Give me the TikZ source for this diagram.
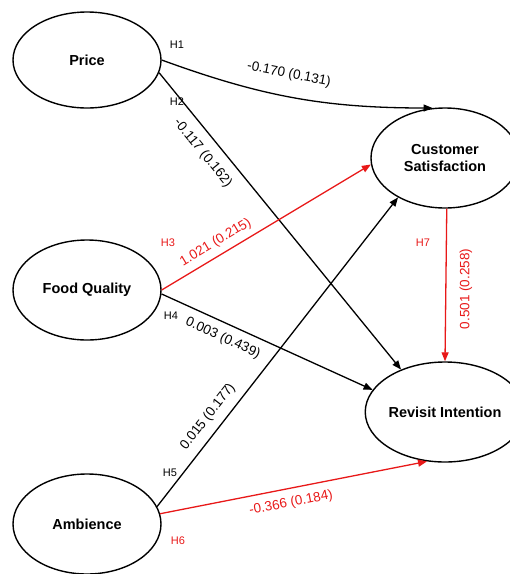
\documentclass[tikz,border=0pt]{standalone}
\usepackage{fontspec}
\setmainfont{Liberation Sans}
\usepackage{tikz}
\usetikzlibrary{arrows.meta,shapes.geometric}
\definecolor{pathred}{RGB}{232,24,24}
\tikzstyle{construct}=[ellipse, draw, line width=1.4pt, minimum width=148pt, minimum height=100pt, inner sep=0pt, align=center, font=\bfseries\fontsize{14.5}{17}\selectfont]
\tikzstyle{link}=[draw=black, line width=1.3pt, -{Triangle[length=9pt, width=7pt]}]
\tikzstyle{linkred}=[link, draw=pathred, -{Triangle[length=9pt, width=7pt, fill=pathred]}]
\tikzstyle{coef}=[font=\fontsize{13.5}{16}\selectfont, inner sep=2pt]
\tikzstyle{hyp}=[font=\fontsize{11}{13}\selectfont]

\begin{document}
\begin{tikzpicture}[x=1pt, y=-1pt]
	\useasboundingbox (0,0) rectangle (510,574);
	\clip (0,0) rectangle (510,574);
	\begin{scope}
		\node (price) at (87, 60)[construct, minimum height=96pt] {Price};
		\node (food) at (87, 290)[construct] {Food Quality};
		\node (amb) at (87, 524)[construct] {Ambience};
		\node (cs) at (445, 158)[construct] {Customer\\Satisfaction};
		\node (ri) at (445, 412)[construct] {Revisit Intention};
	\end{scope}
	\begin{scope}
		\path [link] (price.east) to[bend right=10] node[coef, sloped, above=13pt, pos=0.46] {-0.170 (0.131)} (cs.104);
		\path [link] (price.-10) -- node[coef, sloped, below=8pt, pos=0.235] {-0.117 (0.162)} (ri.136);
		\path [linkred] (food.east) -- node[coef, sloped, above=4pt, pos=0.29, text=pathred] {1.021 (0.215)} (cs.185);
		\path [link] (food.-3) -- node[coef, sloped, below=6pt, pos=0.32] {0.003 (0.439)} (ri.163);
		\path [link] (amb.14) -- node[coef, sloped, above=6pt, pos=0.26] {0.015 (0.177)} (cs.220);
		\path [linkred] (amb.8) -- node[coef, sloped, below=6pt, pos=0.48, text=pathred] {-0.366 (0.184)} (ri.250);
		\path [linkred] (cs.-88) -- (ri.90);
		\node (c7) at (466, 289)[coef, rotate=90, text=pathred] {0.501 (0.258)};
	\end{scope}
	\begin{scope}
		\node (h1) at (177, 45)[hyp] {H1};
		\node (h2) at (177, 102)[hyp] {H2};
		\node (h3) at (168, 243)[hyp, text=pathred] {H3};
		\node (h4) at (171, 316)[hyp] {H4};
		\node (h5) at (170, 473)[hyp] {H5};
		\node (h6) at (178, 541)[hyp, text=pathred] {H6};
		\node (h7) at (423, 243)[hyp, text=pathred] {H7};
	\end{scope}
\end{tikzpicture}
\end{document}
